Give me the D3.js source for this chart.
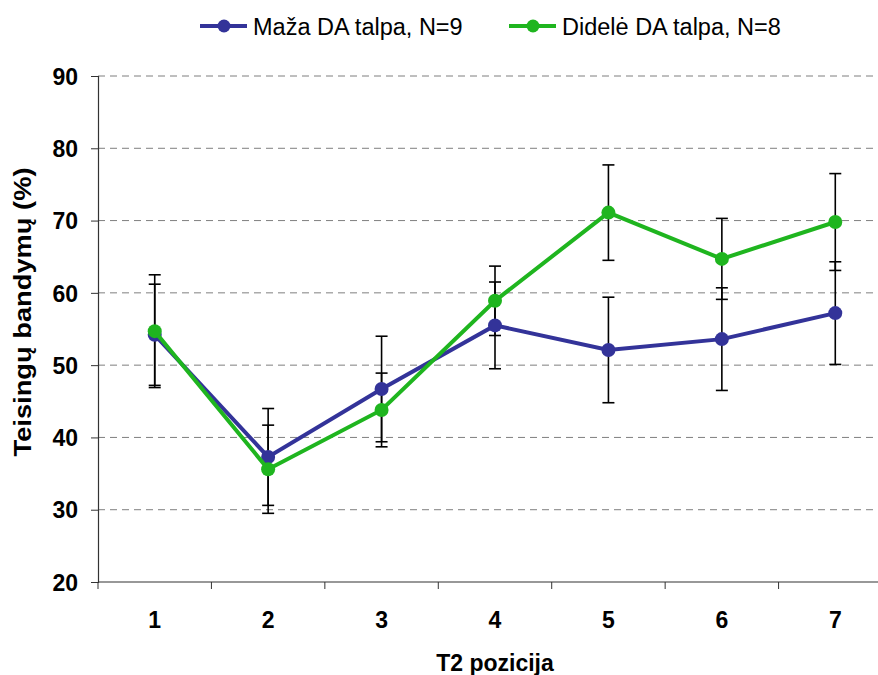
<!DOCTYPE html>
<head>
    <meta charset="utf-8">
    <script src="https://d3js.org/d3.v7.min.js"></script>
    <style>
        body { margin:0; background:#fff; }
        text { font-family: Arial, "Liberation Sans", sans-serif; }
    </style>
</head>
<body>
    <svg id="chart" width="878" height="675"></svg>
    <script>
        // Chart data
        var positions = ["1", "2", "3", "4", "5", "6", "7"];
        var seriesNames = ["Maža DA talpa, N=9", "Didelė DA talpa, N=8"];
        var smallValues = [54.2, 37.3, 46.7, 55.5, 52.1, 53.6, 57.2];
        var smallErrors = [7.0, 6.7, 7.3, 6.0, 7.3, 7.1, 7.1];
        var largeValues = [54.7, 35.6, 43.8, 58.9, 71.1, 64.7, 69.8];
        var largeErrors = [7.8, 6.1, 5.1, 4.8, 6.6, 5.6, 6.7];
        var yTicks = [20, 30, 40, 50, 60, 70, 80, 90];

        var colors = ["#333399", "#1fb51f"];
        var series = [
            { name: seriesNames[0], values: smallValues, errors: smallErrors, color: colors[0] },
            { name: seriesNames[1], values: largeValues, errors: largeErrors, color: colors[1] }
        ];

        var plotLeft = 98, plotRight = 892, plotTop = 76, plotBottom = 582;
        var svg = d3.select("#chart");

        var x = d3.scaleBand().domain(positions).range([plotLeft, plotRight]);
        var y = d3.scaleLinear().domain([20, 90]).range([plotBottom, plotTop]);

        // dashed gridlines
        svg.append("g").selectAll("line")
            .data(yTicks.filter(function(d) { return d > 20; }))
            .enter().append("line")
            .attr("x1", plotLeft).attr("x2", plotRight)
            .attr("y1", function(d) { return y(d); })
            .attr("y2", function(d) { return y(d); })
            .attr("stroke", "#7f7f7f")
            .attr("stroke-width", 1)
            .attr("stroke-dasharray", "7,5");

        // y axis
        var yAxis = svg.append("g")
            .attr("transform", "translate(" + plotLeft + ",0)")
            .call(d3.axisLeft(y).tickValues(yTicks).tickSize(7).tickPadding(13));
        yAxis.select(".domain").attr("stroke", "#333").attr("stroke-width", 1.2);
        yAxis.selectAll(".tick line").attr("stroke", "#333");
        yAxis.selectAll("text")
            .style("font-size", "23px").style("font-weight", "bold").attr("fill", "#000")
            .attr("dy", "0.36em");

        // x axis: ticks between categories
        var xBounds = positions.map(function(p) { return x(p); }).concat([plotRight]);
        svg.append("line")
            .attr("x1", plotLeft).attr("x2", plotRight).attr("y1", plotBottom).attr("y2", plotBottom)
            .attr("stroke", "#333").attr("stroke-width", 1.2);
        svg.append("g").selectAll("line")
            .data(xBounds)
            .enter().append("line")
            .attr("x1", function(d) { return d; }).attr("x2", function(d) { return d; })
            .attr("y1", plotBottom).attr("y2", plotBottom + 7)
            .attr("stroke", "#333");
        svg.append("g").selectAll("text")
            .data(positions)
            .enter().append("text")
            .attr("x", function(d) { return x(d) + x.bandwidth() / 2; })
            .attr("y", plotBottom + 46)
            .attr("text-anchor", "middle")
            .style("font-size", "23px").style("font-weight", "bold")
            .text(function(d) { return d; });

        // axis titles
        svg.append("text")
            .attr("x", (plotLeft + plotRight) / 2).attr("y", 671)
            .attr("text-anchor", "middle")
            .style("font-size", "23px").style("font-weight", "bold")
            .text("T2 pozicija");
        svg.append("text")
            .attr("transform", "translate(31,312) rotate(-90)")
            .attr("text-anchor", "middle")
            .attr("textLength", 289)
            .attr("lengthAdjust", "spacingAndGlyphs")
            .style("font-size", "24px").style("font-weight", "bold")
            .text("Teisingų bandymų (%)");

        // error bars
        series.forEach(function(s) {
            var g = svg.append("g").attr("stroke", "#000").attr("stroke-width", 1.6);
            s.values.forEach(function(v, i) {
                var cx = x(positions[i]) + x.bandwidth() / 2;
                var hi = y(v + s.errors[i]), lo = y(v - s.errors[i]);
                g.append("line").attr("x1", cx).attr("x2", cx).attr("y1", hi).attr("y2", lo);
                g.append("line").attr("x1", cx - 6).attr("x2", cx + 6).attr("y1", hi).attr("y2", hi);
                g.append("line").attr("x1", cx - 6).attr("x2", cx + 6).attr("y1", lo).attr("y2", lo);
            });
        });

        // lines and markers
        var line = d3.line()
            .x(function(d, i) { return x(positions[i]) + x.bandwidth() / 2; })
            .y(function(d) { return y(d); });
        series.forEach(function(s) {
            svg.append("path")
                .datum(s.values)
                .attr("d", line)
                .attr("fill", "none")
                .attr("stroke", s.color)
                .attr("stroke-width", 4);
            svg.append("g").selectAll("circle")
                .data(s.values)
                .enter().append("circle")
                .attr("cx", function(d, i) { return x(positions[i]) + x.bandwidth() / 2; })
                .attr("cy", function(d) { return y(d); })
                .attr("r", 7)
                .attr("fill", s.color);
        });

        // legend
        var legendX = [200, 509];
        series.forEach(function(s, i) {
            var g = svg.append("g").attr("transform", "translate(" + legendX[i] + ",26)");
            g.append("line").attr("x1", 0).attr("x2", 47).attr("y1", 0).attr("y2", 0)
                .attr("stroke", s.color).attr("stroke-width", 4);
            g.append("circle").attr("cx", 24).attr("cy", 0).attr("r", 6.5).attr("fill", s.color);
            g.append("text").attr("x", 53).attr("y", 8.5)
                .style("font-size", "23.5px")
                .text(s.name);
        });
    </script>
</body>
